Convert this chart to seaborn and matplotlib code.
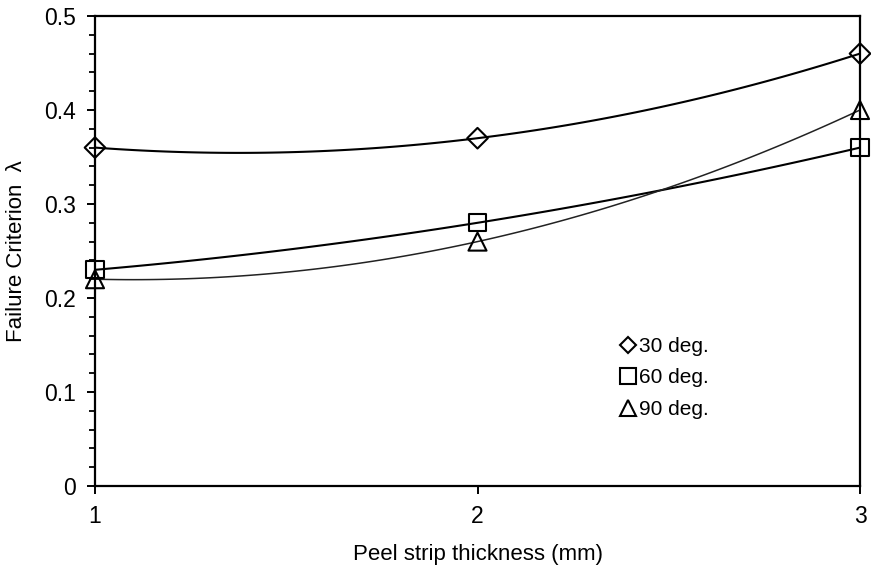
import numpy as np
import pandas as pd
import seaborn as sns
import matplotlib
matplotlib.use("Agg")
import matplotlib.pyplot as plt
from matplotlib.lines import Line2D
from matplotlib.ticker import MultipleLocator

thickness = [1, 2, 3]
lam_30 = [0.36, 0.37, 0.46]
lam_60 = [0.23, 0.28, 0.36]
lam_90 = [0.22, 0.26, 0.40]
series_labels = ["30 deg.", "60 deg.", "90 deg."]
x_ticks = [1, 2, 3]

sns.set_theme(style="ticks")
plt.rcParams['font.family'] = ['Liberation Sans', 'DejaVu Sans']
plt.rcParams['text.color'] = 'black'
plt.rcParams['axes.labelcolor'] = 'black'
plt.rcParams['xtick.color'] = 'black'
plt.rcParams['ytick.color'] = 'black'

fig = plt.figure(figsize=(8.71, 5.79), dpi=100)
ax = fig.add_axes([95/871, 1-486/579, (860-95)/871, (486-16)/579])

styles = [
    (lam_30, "D", 10.5, 1.5, "#000000"),
    (lam_60, "s", 12.5, 1.5, "#000000"),
    (lam_90, "^", 13, 1.1, "#222222"),
]
legend_ms = [8.5, 11, 11]
handles = []
for (vals, mk, ms, lw, col), lab, lms in zip(styles, series_labels, legend_ms):
    df = pd.DataFrame({"x": thickness, "y": vals})
    sns.regplot(data=df, x="x", y="y", order=2, ci=None, scatter=False,
                truncate=True, line_kws={"color": col, "lw": lw}, ax=ax)
    sns.scatterplot(data=df, x="x", y="y", marker=mk, s=ms**2,
                    facecolor="none", edgecolor="black", linewidth=1.5,
                    ax=ax, zorder=3, clip_on=False)
    handles.append(Line2D([], [], ls="none", marker=mk, ms=lms,
                          mfc="none", mec="black", mew=1.5, label=lab))

ax.set_xlim(1, 3)
ax.set_ylim(0, 0.5)
ax.set_xticks(x_ticks)
ax.set_xticklabels([str(t) for t in x_ticks])
ax.yaxis.set_minor_locator(MultipleLocator(0.02))
ax.yaxis.set_ticks([0, 0.1, 0.2, 0.3, 0.4, 0.5])
ax.set_yticklabels(["0", "0.1", "0.2", "0.3", "0.4", "0.5"])
ax.tick_params(axis="both", which="major", direction="out", length=6, width=1.4,
               labelsize=16.5, color="black", labelcolor="black", pad=8)
ax.tick_params(axis="y", which="minor", direction="out", length=4, width=1.3, color="black")
for sp in ax.spines.values():
    sp.set_visible(True)
    sp.set_color("black")
    sp.set_linewidth(1.6)

ax.set_xlabel("Peel strip thickness (mm)", fontsize=16, labelpad=11, color="black")
ax.set_ylabel("Failure Criterion  λ", fontsize=16, labelpad=12, color="black")

ax.legend(handles=handles, loc="upper left", bbox_to_anchor=(0.672, 0.335),
          frameon=False, fontsize=15, handletextpad=0.05, handlelength=1.0,
          labelspacing=0.6, borderaxespad=0)

fig.savefig("out.png", dpi=100)
